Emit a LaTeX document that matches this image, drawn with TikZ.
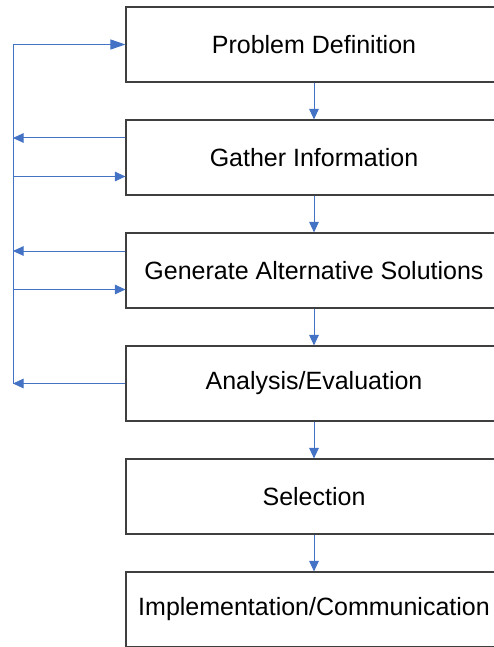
\documentclass[tikz,border=0pt]{standalone}
\usepackage{fontspec}
\setmainfont{Liberation Sans}
\usetikzlibrary{arrows.meta,calc}
\definecolor{flowblue}{HTML}{4472C4}
\definecolor{boxgray}{HTML}{3F3F3F}
\tikzset{
  stepbox/.style={draw=boxgray, line width=1.1pt, fill=white, minimum width=376pt, minimum height=75pt, inner sep=0pt, font=\fontsize{25}{30}\selectfont, text=black},
  flow/.style={draw=flowblue, line width=1pt, -{Triangle[length=10.5pt,width=9.5pt]}},
  bigflow/.style={draw=flowblue, line width=1pt, -{Triangle[length=15pt,width=10pt]}},
  fline/.style={draw=flowblue, line width=1pt}
}
\begin{document}
\begin{tikzpicture}[x=1pt,y=-1pt]
\useasboundingbox (0,0) rectangle (494,647);
\clip (0,0) rectangle (494,647);
\node[stepbox] (b1) at (314,44.5) {Problem Definition};
\node[stepbox] (b2) at (314,157.5) {Gather Information};
\node[stepbox] (b3) at (314,270.5) {Generate Alternative Solutions};
\node[stepbox] (b4) at (314,383.5) {Analysis/Evaluation};
\node[stepbox] (b5) at (314,496.5) {Selection};
\node[stepbox] (b6) at (314,609.5) {Implementation/Communication};
% vertical flow
\draw[flow] (b1.south) -- (b2.north);
\draw[flow] (b2.south) -- (b3.north);
\draw[flow] (b3.south) -- (b4.north);
\draw[flow] (b4.south) -- (b5.north);
\draw[flow] (b5.south) -- (b6.north);
% feedback
\coordinate (L) at (13,0);
\coordinate (g2a) at ([yshift=19.5pt]b2.west);
\coordinate (g2b) at ([yshift=-19pt]b2.west);
\coordinate (g3a) at ([yshift=19.5pt]b3.west);
\coordinate (g3b) at ([yshift=-19pt]b3.west);
\coordinate (top) at (b1.west -| L);
\coordinate (bot) at (b4.west -| L);
\draw[fline] (top) -- (bot);
\draw[bigflow] (top) -- (b1.west);
\draw[flow] (g2a) -- (g2a -| L);
\draw[flow] (g2b -| L) -- (g2b);
\draw[flow] (g3a) -- (g3a -| L);
\draw[flow] (g3b -| L) -- (g3b);
\draw[flow] (b4.west) -- (bot);
\end{tikzpicture}
\end{document}
